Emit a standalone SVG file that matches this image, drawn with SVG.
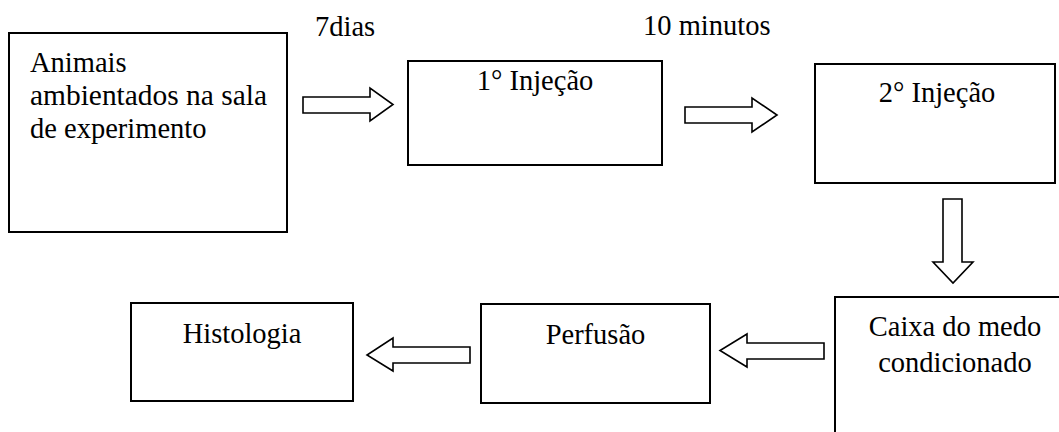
<svg xmlns="http://www.w3.org/2000/svg" width="1059" height="432" viewBox="0 0 1059 432">
  <style>
    .box { fill: #fff; stroke: #000; stroke-width: 2; }
    .arrow { fill: #fff; stroke: #000; stroke-width: 1.6; stroke-linejoin: miter; }
    text { font-family: "Liberation Serif", "Times New Roman", serif; font-size: 28.5px; fill: #000; }
    .c { text-anchor: middle; }
  </style>
  <rect width="1059" height="432" fill="#fff"/>

  <!-- block arrows between steps -->
  <g id="connectors">
    <polygon class="arrow" points="303,97 370,97 370,88 393,104.5 370,121 370,113 303,113"/>
    <polygon class="arrow" points="685,107 752,107 752,98 777,115 752,132 752,123 685,123"/>
    <polygon class="arrow" points="943,199 962,199 962,262 973,262 953,283 933,262 943,262"/>
    <polygon class="arrow" points="824,343 747,343 747,334 720,350.5 747,367 747,359 824,359"/>
    <polygon class="arrow" points="470,347 393,347 393,338 367,355 393,371 393,363 470,363"/>
  </g>

  <g id="label-7dias"><text x="315" y="36">7dias</text></g>
  <g id="label-10min"><text x="643" y="35">10 minutos</text></g>

  <g id="node-animais">
    <rect class="box" x="9" y="33" width="278" height="199"/>
    <text x="30" y="72">Animais</text>
    <text x="30" y="105" textLength="237" lengthAdjust="spacingAndGlyphs">ambientados na sala</text>
    <text x="30" y="138">de experimento</text>
  </g>

  <g id="node-injecao1">
    <rect class="box" x="408" y="61" width="254" height="104"/>
    <text class="c" x="535" y="90">1° Injeção</text>
  </g>

  <g id="node-injecao2">
    <rect class="box" x="815" y="64" width="240" height="119"/>
    <text class="c" x="937" y="102">2° Injeção</text>
  </g>

  <g id="node-caixa">
    <rect class="box" x="835" y="297" width="240" height="150"/>
    <text class="c" x="955" y="336">Caixa do medo</text>
    <text class="c" x="955" y="372">condicionado</text>
  </g>

  <g id="node-perfusao">
    <rect class="box" x="481" y="304" width="229" height="99"/>
    <text class="c" x="595.5" y="344">Perfusão</text>
  </g>

  <g id="node-histologia">
    <rect class="box" x="131" y="303" width="222" height="98"/>
    <text class="c" x="242" y="343">Histologia</text>
  </g>
</svg>
